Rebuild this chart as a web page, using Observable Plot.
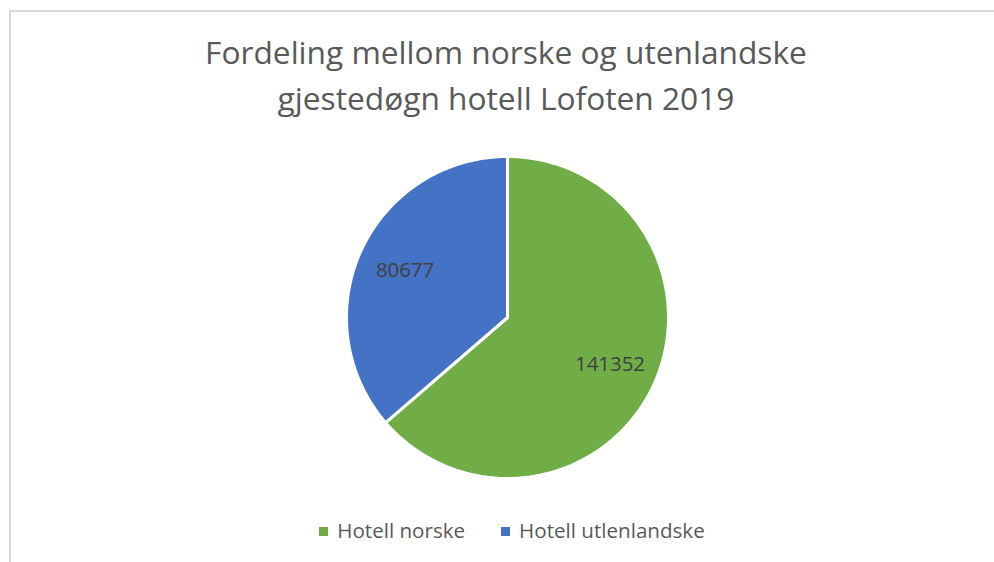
<!DOCTYPE html>
<html><head><meta charset="utf-8">
<script src="https://cdn.jsdelivr.net/npm/d3@7"></script>
<script src="https://cdn.jsdelivr.net/npm/@observablehq/plot@0.6"></script>
<style>
body{margin:0;background:#fff;}
#wrap{position:relative;width:994px;height:562px;overflow:hidden;font-family:"Open Sans",sans-serif;}
#frame{position:absolute;left:9px;top:10px;width:1000px;height:600px;border-left:2px solid #d9d9d9;border-top:2px solid #d9d9d9;}
#title{position:absolute;left:0;top:28.7px;width:1012px;text-align:center;font-size:31.7px;line-height:46.5px;color:#595959;}
#plot{position:absolute;left:342px;top:152px;}
#legend{position:absolute;left:0;top:518px;width:1024px;display:flex;justify-content:center;font-size:20.6px;line-height:24px;color:#595959;}
.item{display:flex;align-items:center;margin:0 18px;}
.sw{width:9px;height:9px;margin-right:9px;margin-top:2px;}
</style></head>
<body>
<div id="wrap">
  <div id="frame"></div>
  <div id="title">Fordeling mellom norske og utenlandske<br>gjestedøgn hotell Lofoten 2019</div>
  <div id="plot"></div>
  <div id="legend"></div>
</div>
<script>
const categories = ["Hotell norske", "Hotell utlenlandske"];
const values = [141352, 80677];
const colors = ["#70ad47", "#4472c4"];

const arcs = d3.pie().sort(null)(values);
const slices = [];
const labels = [];
arcs.forEach((a, i) => {
  const name = categories[i];
  slices.push({name, x: 0, y: 0});
  const n = 120;
  for (let k = 0; k <= n; k++) {
    const t = a.startAngle + (a.endAngle - a.startAngle) * k / n;
    slices.push({name, x: Math.sin(t), y: Math.cos(t)});
  }
  slices.push({name, x: 0, y: 0});
  const m = (a.startAngle + a.endAngle) / 2;
  labels.push({name, value: values[i], x: 0.7 * Math.sin(m), y: 0.7 * Math.cos(m)});
});

const chart = Plot.plot({
  width: 330, height: 330,
  margin: 4,
  x: {domain: [-1, 1], axis: null},
  y: {domain: [-1, 1], axis: null},
  color: {domain: categories, range: colors},
  marks: [
    Plot.line(slices, {x: "x", y: "y", z: "name", fill: "name", stroke: "white", strokeWidth: 3}),
    Plot.text(labels, {x: "x", y: "y", text: d => String(d.value), fill: "#404040", fontSize: 20.4, fontFamily: "'Open Sans', sans-serif"})
  ]
});
document.getElementById("plot").appendChild(chart);

const leg = document.getElementById("legend");
categories.forEach((c, i) => {
  const it = document.createElement("div");
  it.className = "item";
  const sw = document.createElement("div");
  sw.className = "sw";
  sw.style.background = colors[i];
  const tx = document.createElement("span");
  tx.textContent = c;
  it.appendChild(sw); it.appendChild(tx);
  leg.appendChild(it);
});
</script>
</body></html>
